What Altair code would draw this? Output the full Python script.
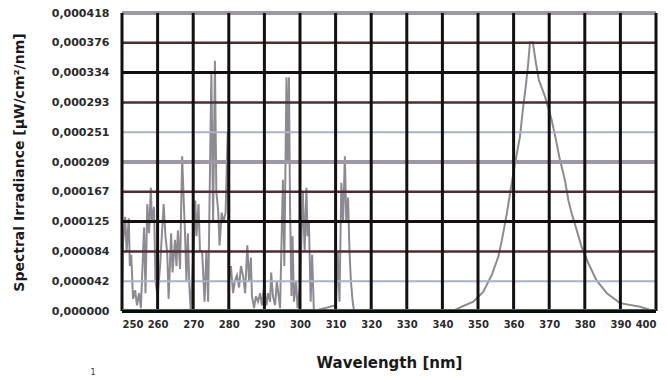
import altair as alt
import pandas as pd

# Spectrum (wavelength in nm, irradiance in µW/cm²/nm)
wavelength = [
    250.0, 250.3, 250.9, 251.3, 251.9, 252.2, 252.6, 253.1, 253.7, 254.2,
    254.8, 255.3, 256.2, 256.6, 257.1, 257.6, 258.1, 258.4, 259.0, 259.4,
    260.0, 260.7, 261.7, 262.2, 262.7, 263.1, 263.8, 264.2, 264.9, 265.3,
    265.7, 266.3, 266.9, 267.3, 267.7, 268.1, 268.5, 268.9, 269.3, 269.7,
    270.6, 270.9, 271.5, 271.9, 272.5, 273.2, 273.7, 274.2, 275.1, 275.6,
    276.1, 276.5, 277.0, 277.4, 278.0, 278.5, 279.1, 279.7, 280.1, 280.6,
    281.2, 281.7, 282.3, 282.9, 283.4, 284.0, 284.6, 285.2, 285.7, 286.2,
    286.5, 287.1, 287.6, 288.2, 288.8, 289.3, 289.9, 290.6, 291.0, 291.6,
    291.9, 292.4, 293.0, 293.5, 294.4, 295.2, 295.6, 296.2, 296.5, 296.9,
    297.2, 297.6, 297.9, 298.3, 298.9, 299.3, 300.0, 300.8, 301.3, 301.8,
    302.1, 302.5, 303.0, 303.4, 303.9, 310.1, 310.6, 311.1, 311.6, 312.1,
    312.6, 313.0, 313.5, 313.9, 314.3, 314.8, 315.2, 343.0, 345.4, 348.7,
    351.5, 353.9, 355.7, 356.7, 358.1, 359.0, 360.4, 361.8, 362.6, 363.5,
    364.1, 364.6, 365.4, 366.3, 367.1, 368.8, 370.7, 371.9, 373.0, 374.4,
    375.4, 376.3, 377.7, 379.1, 381.0, 383.3, 386.2, 389.9, 395.5, 398.0,
]
irradiance = [
    0.000021, 0.000096, 0.000132, 0.000084, 0.000130, 0.000063, 0.000079, 0.000017, 0.000029, 0.000008,
    0.000025, 0.000004, 0.000117, 0.000025, 0.000150, 0.000109, 0.000173, 0.000125, 0.000146, 0.000042,
    0.000021, 0.000063, 0.000150, 0.000105, 0.000082, 0.000017, 0.000109, 0.000054, 0.000100, 0.000063,
    0.000113, 0.000059, 0.000217, 0.000159, 0.000109, 0.000042, 0.000109, 0.000038, 0.000000, 0.000042,
    0.000155, 0.000105, 0.000150, 0.000084, 0.000084, 0.000013, 0.000084, 0.000013, 0.000334, 0.000125,
    0.000351, 0.000167, 0.000142, 0.000092, 0.000138, 0.000125, 0.000138, 0.000251, 0.000042, 0.000063,
    0.000025, 0.000042, 0.000050, 0.000033, 0.000063, 0.000050, 0.000025, 0.000092, 0.000042, 0.000075,
    0.000021, 0.000004, 0.000021, 0.000013, 0.000025, 0.000008, 0.000033, 0.000008, 0.000025, 0.000013,
    0.000054, 0.000021, 0.000008, 0.000042, 0.000004, 0.000184, 0.000063, 0.000328, 0.000209, 0.000328,
    0.000146, 0.000021, 0.000105, 0.000013, 0.000042, 0.000004, 0.000033, 0.000167, 0.000084, 0.000173,
    0.000105, 0.000125, 0.000013, 0.000079, 0.000000, 0.000008, 0.000084, 0.000013, 0.000180, 0.000125,
    0.000217, 0.000125, 0.000159, 0.000084, 0.000042, 0.000013, 0.000000, 0.000000, 0.000006, 0.000013,
    0.000027, 0.000051, 0.000076, 0.000099, 0.000137, 0.000165, 0.000207, 0.000245, 0.000282, 0.000319,
    0.000347, 0.000377, 0.000377, 0.000347, 0.000324, 0.000301, 0.000268, 0.000240, 0.000212, 0.000184,
    0.000155, 0.000137, 0.000114, 0.000090, 0.000067, 0.000043, 0.000025, 0.000011, 0.000006, 0.000002,
]

x_ticks = [250, 260, 270, 280, 290, 300, 310, 320, 330, 340, 350, 360, 370, 380, 390, 400]
y_ticks = [0.0, 0.0000418, 0.0000836, 0.0001254, 0.0001672, 0.000209,
           0.0002508, 0.0002926, 0.0003344, 0.0003762, 0.000418]

BROWN, BLACK, GREY, BLUEGREY = "#4e2c34", "#141010", "#9c98a4", "#aab2c6"
grid_colors = ["#141010", BLUEGREY, BROWN, BLACK, BROWN, GREY, BLUEGREY, BROWN, BLACK, BROWN, GREY]
grid_widths = [4, 2, 2.5, 3, 2.5, 4, 2, 2.5, 3, 2.5, 4]

spec = pd.DataFrame({"wl": wavelength, "irr": irradiance})
hgrid = pd.DataFrame({"irr": y_ticks[1:], "c": grid_colors[1:], "w": grid_widths[1:]})
vgrid = pd.DataFrame({"wl": x_ticks})
base_df = pd.DataFrame({"irr": [0.0]})

xscale = alt.Scale(domain=[250, 400], nice=False, zero=False)
yscale = alt.Scale(domain=[0, 0.000418], nice=False)

xaxis = alt.Axis(values=x_ticks, title="Wavelength [nm]", grid=False, domain=False,
                 ticks=False, labelPadding=8, labelFont="DejaVu Sans",
                 labelFontWeight="bold", labelFontSize=10, labelColor="#2a2a2a",
                 titleFont="DejaVu Sans", titleFontSize=15, titleFontWeight="bold",
                 titleColor="#1a1a1a", titlePadding=26)
yaxis = alt.Axis(values=y_ticks, title="Spectral Irradiance [µW/cm²/nm]", grid=False,
                 domain=False, ticks=False, labelPadding=13,
                 labelExpr="replace(format(datum.value, '.6f'), '.', ',')",
                 labelFont="DejaVu Sans", labelFontWeight="bold", labelFontSize=11,
                 labelColor="#2a2a2a", titleFont="DejaVu Sans", titleFontSize=14,
                 titleFontWeight="bold", titleColor="#1a1a1a", titlePadding=25)

X = alt.X("wl:Q", scale=xscale, axis=xaxis, title="Wavelength [nm]")
Y = alt.Y("irr:Q", scale=yscale, axis=yaxis, title="Spectral Irradiance [µW/cm²/nm]")

line = alt.Chart(spec).mark_line(color="#8e8a92", strokeWidth=2).encode(x=X, y=Y)

hrules = alt.Chart(hgrid).mark_rule().encode(
    y=Y,
    color=alt.Color("c:N", scale=None),
    strokeWidth=alt.StrokeWidth("w:Q", scale=None),
)

vrules = alt.Chart(vgrid).mark_rule(color="#141010", strokeWidth=3).encode(x=X)

base_black = alt.Chart(base_df).mark_rule(color="#0c0c0c", strokeWidth=4).encode(y=Y)
base_green = alt.Chart(base_df).mark_rule(color="#1f7a1f", strokeWidth=1.2, yOffset=-1.5).encode(y=Y)

note = alt.Chart(pd.DataFrame({"t": ["1"]})).mark_text(
    fontSize=8, font="DejaVu Sans", color="#333", align="center", baseline="middle"
).encode(x=alt.value(-29), y=alt.value(360), text="t:N")

chart = alt.layer(line, hrules, vrules, base_black, base_green, note).properties(
    width=534, height=298,
    autosize=alt.AutoSizeParams(type="none"),
    padding={"left": 114, "top": 5, "right": 3, "bottom": 68},
    background="white",
).configure_view(stroke=None)

chart.save("out.html", embed_options={"renderer": "svg", "actions": False})
